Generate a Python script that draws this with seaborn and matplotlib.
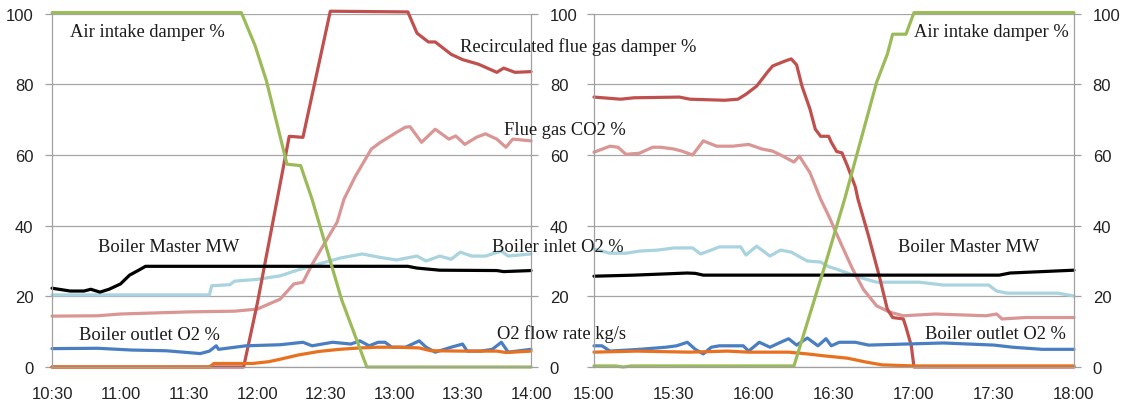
import matplotlib
matplotlib.use("Agg")
import matplotlib.pyplot as plt
import seaborn as sns

# x tick labels of both runs
left_ticks = ["10:30", "11:00", "11:30", "12:00", "12:30", "13:00", "13:30", "14:00"]
right_ticks = ["15:00", "15:30", "16:00", "16:30", "17:00", "17:30", "18:00"]
y_ticks = [0, 20, 40, 60, 80, 100]

# ---- left run: switching from air to oxy firing ----
air_left_t = ["10:30", "11:53", "11:59", "12:04", "12:13", "12:19", "12:24", "12:37", "12:48", "14:00"]
air_left_v = [100.3, 100.3, 91, 81, 57.4, 57, 47.5, 19, 0, 0]

recirc_left_t = ["10:30", "11:54", "12:00", "12:14", "12:20", "12:32", "13:06", "13:10", "13:15", "13:18",
                 "13:25", "13:30", "13:37", "13:45", "13:48", "13:53", "14:00"]
recirc_left_v = [0, 0, 18, 65.3, 65, 100.7, 100.5, 94.5, 92, 92, 88.5, 87, 85.7, 83.4, 84.6, 83.4, 83.6]

co2_left_t = ["10:30", "10:50", "11:00", "11:30", "11:50", "12:00", "12:10", "12:16", "12:20", "12:24",
              "12:28", "12:35", "12:38", "12:43", "12:50", "12:54", "13:01", "13:05", "13:07", "13:12",
              "13:18", "13:24", "13:27", "13:31", "13:36", "13:40", "13:45", "13:49", "13:52", "14:00"]
co2_left_v = [14.4, 14.5, 15.0, 15.6, 15.8, 16.4, 19.2, 23.5, 24, 29, 33.4, 41, 47.5, 54, 61.7, 63.6,
              66.4, 67.9, 68, 63.6, 67.3, 64.5, 65.4, 63, 65, 66, 64.5, 62.2, 64.5, 64]

inlet_left_t = ["10:30", "11:39", "11:40", "11:48", "11:50", "12:00", "12:10", "12:18", "12:24", "12:36",
                "12:46", "12:54", "13:01", "13:10", "13:14", "13:20", "13:25", "13:29", "13:34", "13:40",
                "13:47", "13:50", "14:00"]
inlet_left_v = [20.4, 20.4, 23, 23.3, 24.3, 24.8, 25.8, 27.5, 28.6, 30.8, 32, 31, 30.3, 31.4, 30, 31.4,
                30.5, 32.5, 31.4, 31.4, 32.8, 31.4, 32]

master_left_t = ["10:30", "10:38", "10:44", "10:47", "10:51", "10:55", "11:00", "11:04", "11:08", "11:11",
                 "13:06", "13:10", "13:20", "13:45", "13:48", "14:00"]
master_left_v = [22.3, 21.5, 21.5, 22, 21.2, 22, 23.5, 26, 27.4, 28.5, 28.5, 28, 27.4, 27.3, 27, 27.3]

outlet_left_t = ["10:30", "10:50", "11:05", "11:20", "11:35", "11:39", "11:42", "11:43", "11:55", "12:10",
                 "12:20", "12:24", "12:33", "12:41", "12:45", "12:49", "12:53", "12:56", "12:59", "13:05",
                 "13:11", "13:14", "13:18", "13:25", "13:30", "13:32", "13:38", "13:43", "13:47", "13:50",
                 "14:00"]
outlet_left_v = [5.2, 5.3, 4.8, 4.6, 3.8, 4.5, 6, 5, 6, 6.3, 7, 6, 7, 6.5, 7.4, 6, 7, 7, 5.6, 5.6,
                 7.4, 5.6, 4.2, 5.6, 6.5, 4.5, 4.5, 5, 7, 4.2, 5]

o2flow_left_t = ["10:30", "11:39", "11:41", "11:58", "12:05", "12:10", "12:18", "12:27", "12:36", "12:45",
                 "12:53", "13:02", "13:11", "13:16", "13:30", "13:45", "13:49", "14:00"]
o2flow_left_v = [0, 0, 1, 1, 1.5, 2.2, 3.4, 4.4, 5, 5.4, 5.6, 5.6, 5.4, 4.6, 4.5, 4.5, 4.1, 4.5]

# ---- right run: switching back to air firing ----
air_right_t = ["15:00", "15:08", "15:11", "15:14", "16:15", "16:27", "16:34", "16:46", "16:50", "16:52",
               "16:57", "17:00", "18:00"]
air_right_v = [0.3, 0.3, 0, 0.3, 0.3, 29.7, 47.5, 80.6, 88.5, 94.2, 94.2, 100.3, 100.3]

recirc_right_t = ["15:00", "15:10", "15:15", "15:32", "15:36", "15:49", "15:54", "15:57", "16:01", "16:05",
                  "16:07", "16:12", "16:14", "16:16", "16:18", "16:21", "16:23", "16:25", "16:28", "16:29",
                  "16:31", "16:33", "16:35", "16:38", "16:39", "16:43", "16:47", "16:50", "16:52", "16:56",
                  "16:57", "16:59", "17:00", "18:00"]
recirc_right_v = [76.4, 75.8, 76.2, 76.4, 75.8, 75.5, 75.8, 77.2, 79.5, 83.4, 85.2, 86.7, 87.2, 85.5,
                  79.5, 73, 67.3, 65.3, 65.3, 63.6, 61, 60.6, 57, 51, 47.5, 37, 25.7, 16.4, 14, 13.6,
                  11.3, 6, 0, 0]

co2_right_t = ["15:00", "15:06", "15:09", "15:12", "15:17", "15:22", "15:25", "15:30", "15:33", "15:37",
               "15:41", "15:46", "15:52", "15:58", "16:03", "16:07", "16:10", "16:15", "16:17", "16:21",
               "16:25", "16:28", "16:33", "16:37", "16:41", "16:46", "16:51", "16:56", "17:08", "17:27",
               "17:31", "17:33", "17:42", "18:00"]
co2_right_v = [60.8, 62.5, 62.2, 60.2, 60.5, 62.2, 62.2, 61.7, 61.1, 60, 64, 62.5, 62.5, 63, 61.7, 61.1,
               60, 58, 59.7, 55, 47.5, 42.8, 34.3, 27.7, 22, 17.3, 15.5, 14.5, 15, 14.5, 15, 13.6, 14, 14]

inlet_right_t = ["15:00", "15:06", "15:12", "15:17", "15:24", "15:30", "15:37", "15:40", "15:44", "15:47",
                 "15:55", "15:57", "16:01", "16:06", "16:10", "16:14", "16:20", "16:25", "16:28", "16:31",
                 "16:39", "16:46", "17:02", "17:11", "17:28", "17:31", "17:35", "17:54", "18:00"]
inlet_right_v = [33.4, 32.2, 32.2, 32.8, 33.1, 33.7, 33.7, 32, 33.1, 34, 34, 31.7, 34.2, 31.4, 33.1,
                 32.5, 30, 29.7, 28.4, 27.7, 25.5, 24, 24, 23.2, 23.2, 21.5, 20.9, 20.9, 20.1]

master_right_t = ["15:00", "15:15", "15:35", "15:38", "15:41", "17:32", "17:36", "18:00"]
master_right_v = [25.7, 26, 26.6, 26.5, 26, 26, 26.6, 27.4]

outlet_right_t = ["15:00", "15:03", "15:06", "15:17", "15:27", "15:31", "15:35", "15:38", "15:41", "15:44",
                  "15:47", "15:56", "15:58", "16:02", "16:06", "16:10", "16:13", "16:16", "16:20", "16:24",
                  "16:27", "16:29", "16:32", "16:38", "16:43", "17:11", "17:30", "17:37", "17:48", "18:00"]
outlet_right_v = [6, 6, 4.5, 5, 5.6, 6, 7, 5, 3.7, 5.6, 6, 6, 4.5, 7, 5.6, 7, 8, 6.2, 8.2, 6, 8, 6,
                  7, 7, 6.2, 6.8, 6.2, 5.6, 5, 5]

o2flow_right_t = ["15:00", "15:16", "15:36", "15:50", "15:58", "16:13", "16:20", "16:27", "16:35", "16:42",
                  "16:48", "17:00", "18:00"]
o2flow_right_v = [4.2, 4.5, 4.2, 4.5, 4.2, 4.2, 3.7, 3.1, 2.5, 1.4, 0.6, 0.3, 0.3]

colors = {
    "inlet": "#A8D3DF",
    "co2": "#D99694",
    "outlet": "#4A7EC2",
    "o2flow": "#E8701E",
    "master": "black",
    "recirc": "#C0504D",
    "air": "#9BBB59",
}


def to_min(times):
    out = []
    for s in times:
        h, m = s.split(":")
        out.append(int(h) * 60 + int(m))
    return out


sns.set_style("white")
plt.rcParams["font.family"] = ["Liberation Sans", "DejaVu Sans"]

fig = plt.figure(figsize=(11.26, 4.06), dpi=100)
ax1 = fig.add_axes([0.0462, 0.0936, 0.4254, 0.8702])
ax2 = fig.add_axes([0.5275, 0.0936, 0.4263, 0.8702])

left_series = [
    ("inlet", inlet_left_t, inlet_left_v),
    ("co2", co2_left_t, co2_left_v),
    ("recirc", recirc_left_t, recirc_left_v),
    ("outlet", outlet_left_t, outlet_left_v),
    ("o2flow", o2flow_left_t, o2flow_left_v),
    ("master", master_left_t, master_left_v),
    ("air", air_left_t, air_left_v),
]
right_series = [
    ("inlet", inlet_right_t, inlet_right_v),
    ("co2", co2_right_t, co2_right_v),
    ("recirc", recirc_right_t, recirc_right_v),
    ("outlet", outlet_right_t, outlet_right_v),
    ("o2flow", o2flow_right_t, o2flow_right_v),
    ("master", master_right_t, master_right_v),
    ("air", air_right_t, air_right_v),
]

for ax, series, ticks in [(ax1, left_series, left_ticks), (ax2, right_series, right_ticks)]:
    for name, t, v in series:
        sns.lineplot(x=to_min(t), y=v, ax=ax, color=colors[name], linewidth=2.3,
                     estimator=None, clip_on=False, solid_joinstyle="round")
    tk = to_min(ticks)
    ax.set_xlim(tk[0], tk[-1])
    ax.set_ylim(0, 100)
    ax.set_xticks(tk)
    ax.set_xticklabels(ticks)
    ax.set_yticks(y_ticks)
    ax.grid(axis="y", color="#A6A6A6", linewidth=0.9)
    ax.set_axisbelow(True)
    for side in ["left", "right", "bottom"]:
        ax.spines[side].set_visible(True)
        ax.spines[side].set_color("#A0A0A0")
        ax.spines[side].set_linewidth(0.9)
    ax.spines["top"].set_visible(False)
    ax.tick_params(axis="both", which="major", direction="out", length=5, width=0.9,
                   color="#A0A0A0", labelsize=12, labelcolor="#222222", pad=8.5)
    ax.set_xlabel("")
    ax.set_ylabel("")

ax1.tick_params(axis="y", left=True, right=True, labelleft=True, labelright=True)
ax2.tick_params(axis="y", left=True, right=True, labelleft=False, labelright=True)

# series labels are figure-level texts so they can run across the gap between the panels
serif = dict(fontfamily=["Liberation Serif", "DejaVu Serif"], fontsize=13.3, color="#1a1a1a",
             va="center", ha="left", zorder=10)


def label(ax, time, value, text):
    fig.text(to_min([time])[0], value, text, transform=ax.transData, **serif)


label(ax1, "10:38", 95, "Air intake damper %")
label(ax1, "13:29", 90.8, "Recirculated flue gas damper %")
label(ax1, "13:48", 67.3, "Flue gas CO2 %")
label(ax1, "10:50", 34, "Boiler Master MW")
label(ax1, "13:43", 34.2, "Boiler inlet O2 %")
label(ax1, "10:42", 9.3, "Boiler outlet O2 %")
label(ax1, "13:45", 9.6, "O2 flow rate kg/s")

label(ax2, "17:00", 95, "Air intake damper %")
label(ax2, "16:54", 34, "Boiler Master MW")
label(ax2, "17:04", 9.6, "Boiler outlet O2 %")

fig.savefig("out.png", dpi=100)
